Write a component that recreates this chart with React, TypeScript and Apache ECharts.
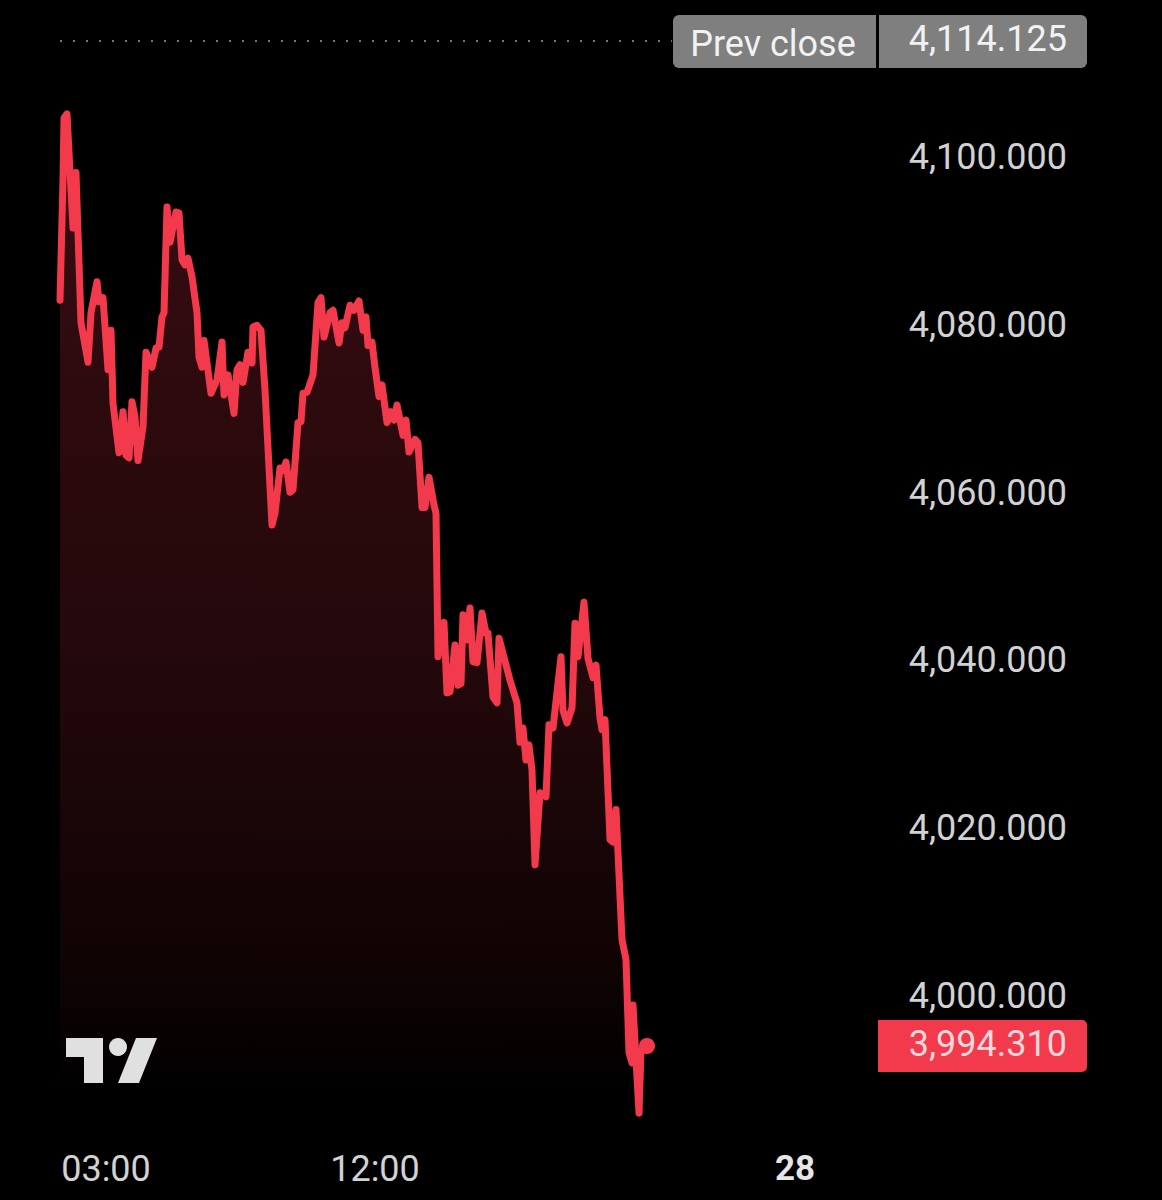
import { useEffect, useRef } from "react";
import * as echarts from "echarts";

// Bar number on the session axis (two-minute bars)
const BARS = [
  0, 3, 4, 7, 13, 16, 21, 28, 31, 37, 39, 43, 48, 51, 53, 59, 63, 66, 69, 72,
  75, 78, 83, 86, 92, 96, 99, 102, 104, 107, 110, 116, 119, 122, 125, 128, 132,
  137, 139, 142, 144, 147, 151, 157, 162, 164, 168, 174, 177, 180, 183, 188,
  192, 193, 197, 201, 205, 212, 215, 220, 223, 226, 230, 233, 238, 241, 243,
  247, 253, 258, 261, 264, 270, 273, 279, 282, 285, 290, 294, 299, 303, 306,
  308, 312, 315, 319, 322, 327, 331, 334, 337, 343, 346, 349, 355, 358, 362,
  365, 369, 374, 376, 378, 384, 387, 390, 395, 398, 401, 403, 407, 410, 413,
  417, 422, 426, 428, 433, 437, 439, 443, 450, 457, 460, 463, 466, 469, 472,
  475, 480, 486, 489, 493, 501, 503, 507, 512, 515, 518, 524, 528, 533, 536,
  540, 542, 545, 550, 553, 556, 562, 566, 569, 572, 573, 579, 581, 587,
];

const PRICES = [
  4082.7, 4097.0, 4104.4, 4104.9, 4091.3, 4097.9, 4080.0, 4075.3, 4081.2,
  4084.9, 4082.5, 4083.0, 4074.4, 4079.1, 4070.4, 4064.5, 4069.4, 4064.2,
  4063.9, 4070.6, 4068.8, 4063.6, 4067.6, 4076.5, 4074.7, 4077.0, 4077.1,
  4080.7, 4081.2, 4093.8, 4089.6, 4093.2, 4093.1, 4087.5, 4086.9, 4087.7,
  4085.5, 4081.2, 4075.9, 4074.7, 4077.9, 4075.2, 4071.6, 4073.2, 4077.7,
  4071.4, 4073.8, 4069.2, 4074.4, 4075.0, 4072.9, 4076.5, 4075.2, 4079.5,
  4079.7, 4079.1, 4072.0, 4055.9, 4057.3, 4062.7, 4062.4, 4063.4, 4059.8,
  4060.1, 4068.1, 4068.2, 4071.6, 4071.7, 4073.8, 4082.4, 4083.0, 4078.3,
  4081.2, 4081.5, 4077.6, 4080.0, 4079.4, 4082.1, 4081.5, 4082.6, 4079.1,
  4080.7, 4077.3, 4077.7, 4074.7, 4071.2, 4072.6, 4068.1, 4069.4, 4068.4,
  4070.2, 4066.6, 4068.4, 4064.6, 4066.1, 4065.7, 4058.0, 4058.0, 4061.6,
  4058.3, 4057.3, 4040.2, 4044.3, 4035.9, 4036.0, 4041.6, 4036.8, 4037.0,
  4045.2, 4042.2, 4046.0, 4039.6, 4039.5, 4045.4, 4043.0, 4043.0, 4035.4,
  4034.7, 4042.4, 4040.6, 4037.4, 4034.7, 4030.0, 4031.7, 4027.9, 4029.7,
  4026.7, 4015.4, 4024.0, 4023.5, 4032.1, 4031.7, 4040.2, 4033.8, 4032.3,
  4034.1, 4044.2, 4040.2, 4046.7, 4040.0, 4037.7, 4039.2, 4032.9, 4031.5,
  4032.7, 4018.4, 4018.1, 4022.0, 4006.5, 4004.1, 3993.0, 3991.8, 3998.7,
  3985.8, 3993.3, 3993.8,
];

const X_TICK_BARS = [46, 315, 735];
const X_TICK_LABELS = ["03:00", "12:00", "28"];
const Y_TICKS = [4000, 4020, 4040, 4060, 4080, 4100];

const PREV_CLOSE_LEVEL = 4113.6; // where the dotted line sits in the picture
const PREV_CLOSE_TEXT = "4,114.125";
const LAST_PRICE_TEXT = "3,994.310";

const RED = "#f23a4c";
const GREY = "#7f7f7f";
const LABEL = "#d2d2d2";
const FONT = "Roboto, sans-serif";

const PX_PER_UNIT = 8.39;
const GRID_TOP = 155 - 15 * PX_PER_UNIT;
const GRID_HEIGHT = 130 * PX_PER_UNIT;

export default function App() {
  const ref = useRef<HTMLDivElement>(null);

  useEffect(() => {
    document.body.style.margin = "0";
    document.body.style.background = "#000";
    const chart = echarts.init(ref.current, undefined, { renderer: "svg" });

    const lineData = BARS.map((b, i) => [b, PRICES[i]]);
    const lastBar = BARS[BARS.length - 1];
    const lastPrice = PRICES[PRICES.length - 1];

    chart.setOption({
      animation: false,
      backgroundColor: "#000",
      grid: { left: 60, width: 820, top: GRID_TOP, height: GRID_HEIGHT },
      xAxis: {
        type: "value",
        min: 0,
        max: 820,
        splitLine: { show: false },
        axisLine: { show: false },
        axisTick: { show: false },
        axisLabel: {
          customValues: X_TICK_BARS,
          hideOverlap: false,
          showMinLabel: true,
          showMaxLabel: true,
          margin: 49,
          verticalAlign: "middle",
          fontFamily: FONT,
          fontSize: 36,
          color: LABEL,
          formatter: (v: number) => {
            const text = X_TICK_LABELS[X_TICK_BARS.indexOf(v)] ?? "";
            return text === "28" ? `{day|${text}}` : text;
          },
          rich: {
            day: { fontFamily: FONT, fontSize: 35, fontWeight: "bold", color: "#e6e6e6" },
          },
        },
      },
      yAxis: {
        type: "value",
        position: "right",
        min: 3985,
        max: 4115,
        splitLine: { show: false },
        axisLine: { show: false },
        axisTick: { show: false },
        axisLabel: {
          customValues: Y_TICKS,
          margin: 187,
          align: "right",
          fontFamily: FONT,
          fontSize: 36,
          color: LABEL,
          formatter: (v: number) =>
            `{tick|${v.toLocaleString("en-US", { minimumFractionDigits: 3 })}}`,
          rich: {
            tick: { fontFamily: FONT, fontSize: 36, color: LABEL, padding: [4, 0, 0, 0] },
          },
        },
      },
      series: [
        {
          type: "line",
          data: lineData,
          showSymbol: false,
          symbol: "none",
          lineStyle: { color: RED, width: 7, cap: "round", join: "round" },
          areaStyle: {
            origin: "start",
            opacity: 1,
            color: new echarts.graphic.LinearGradient(0, 0, 0, 1, [
              { offset: 0, color: "#380c11" },
              { offset: 0.55, color: "#23080b" },
              { offset: 0.85, color: "#100304" },
              { offset: 0.97, color: "#000000" },
              { offset: 1, color: "#000000" },
            ]),
          },
          markLine: {
            silent: true,
            symbol: "none",
            label: { show: false },
            lineStyle: { color: "#777777", width: 2, type: [2, 11] },
            data: [[{ coord: [0, PREV_CLOSE_LEVEL] }, { coord: [612, PREV_CLOSE_LEVEL] }]],
          },
        },
        {
          type: "scatter",
          data: [[lastBar, lastPrice]],
          symbol: "circle",
          symbolSize: 16,
          itemStyle: { color: RED, opacity: 1 },
          z: 5,
        },
      ],
      graphic: [
        // Prev close badge
        { type: "rect", z: 100, shape: { x: 673, y: 15, width: 203, height: 53, r: [6, 0, 0, 6] }, style: { fill: GREY } },
        { type: "rect", z: 100, shape: { x: 879, y: 15, width: 208, height: 53, r: [0, 6, 6, 0] }, style: { fill: GREY } },
        { type: "text", z: 101, style: { text: "Prev close", x: 773, y: 44, align: "center", verticalAlign: "middle", font: `36px ${FONT}`, fill: "#f2f2f2" } },
        { type: "text", z: 101, style: { text: PREV_CLOSE_TEXT, x: 1067, y: 39, align: "right", verticalAlign: "middle", font: `36px ${FONT}`, fill: "#f2f2f2" } },
        // Last price badge
        { type: "rect", z: 100, shape: { x: 878, y: 1020, width: 209, height: 52, r: [0, 5, 5, 0] }, style: { fill: RED } },
        { type: "text", z: 101, style: { text: LAST_PRICE_TEXT, x: 1067, y: 1044, align: "right", verticalAlign: "middle", font: `36px ${FONT}`, fill: "#f7d9dc" } },
        // TradingView mark
        { type: "polygon", z: 100, shape: { points: [[66, 1038], [103, 1038], [103, 1083], [84, 1083], [84, 1057], [66, 1057]] }, style: { fill: "#e0e0e0" } },
        { type: "circle", z: 100, shape: { cx: 118, cy: 1047, r: 9 }, style: { fill: "#e0e0e0" } },
        { type: "polygon", z: 100, shape: { points: [[136, 1038], [157, 1038], [139, 1083], [118, 1083]] }, style: { fill: "#e0e0e0" } },
      ],
    });

    return () => chart.dispose();
  }, []);

  return <div ref={ref} style={{ position: "absolute", left: 0, top: 0, width: 1162, height: 1200 }} />;
}
